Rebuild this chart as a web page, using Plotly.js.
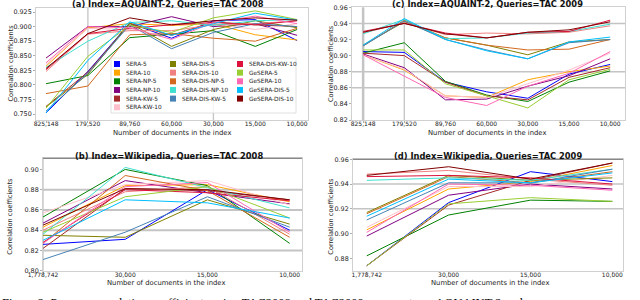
<!DOCTYPE html>
<html><head><meta charset="utf-8">
<script src="https://cdn.plot.ly/plotly-3.0.1.min.js"></script>
<style>html,body{margin:0;padding:0;background:#fff}#chart{width:640px;height:300px}</style>
</head><body><div id="chart"></div>
<script>
const seriesNames = ['SERA-5','SERA-10','SERA-NP-5','SERA-NP-10','SERA-KW-5','SERA-KW-10','SERA-DIS-5','SERA-DIS-10','SERA-DIS-NP-5','SERA-DIS-NP-10','SERA-DIS-KW-5','SERA-DIS-KW-10','GeSERA-5','GeSERA-10','GeSERA-DIS-5','GeSERA-DIS-10'];
const seriesColors = ['#0000ff','#ffa500','#008000','#800080','#a52a2a','#ffc0cb','#808000','#f08080','#d2691e','#40e0d0','#4682b4','#dc143c','#9acd32','#ff69b4','#00bfff','#800000'];

const docsAquaint = ['825,148','179,520','89,760','60,000','30,000','15,000','10,000'];
const docsWiki = ['1,778,742','30,000','15,000','10,000'];

// (a) Index=AQUAINT-2, Queries=TAC 2008
const aquaintTac2008 = [
  [0.752, 0.823, 0.906, 0.880, 0.910, 0.912, 0.876],
  [0.832, 0.898, 0.905, 0.902, 0.905, 0.886, 0.877],
  [0.802, 0.816, 0.881, 0.887, 0.893, 0.866, 0.895],
  [0.846, 0.900, 0.900, 0.917, 0.900, 0.905, 0.885],
  [0.763, 0.822, 0.905, 0.885, 0.908, 0.903, 0.900],
  [0.835, 0.897, 0.895, 0.905, 0.905, 0.895, 0.905],
  [0.762, 0.818, 0.906, 0.866, 0.895, 0.910, 0.898],
  [0.823, 0.887, 0.893, 0.893, 0.903, 0.905, 0.910],
  [0.785, 0.798, 0.886, 0.888, 0.880, 0.875, 0.897],
  [0.830, 0.875, 0.907, 0.910, 0.902, 0.910, 0.912],
  [0.755, 0.820, 0.903, 0.862, 0.890, 0.905, 0.900],
  [0.826, 0.888, 0.897, 0.903, 0.907, 0.903, 0.910],
  [0.760, 0.849, 0.902, 0.890, 0.915, 0.927, 0.912],
  [0.838, 0.900, 0.898, 0.878, 0.907, 0.918, 0.905],
  [0.752, 0.842, 0.908, 0.885, 0.905, 0.923, 0.911],
  [0.828, 0.888, 0.915, 0.903, 0.910, 0.915, 0.911]
];
// (c) Index=AQUAINT-2, Queries=TAC 2009
const aquaintTac2009 = [
  [0.905, 0.904, 0.867, 0.855, 0.847, 0.877, 0.889],
  [0.901, 0.882, 0.850, 0.848, 0.870, 0.880, 0.887],
  [0.903, 0.916, 0.868, 0.851, 0.843, 0.867, 0.881],
  [0.902, 0.885, 0.845, 0.846, 0.862, 0.875, 0.896],
  [0.903, 0.900, 0.867, 0.850, 0.845, 0.873, 0.885],
  [0.901, 0.883, 0.850, 0.848, 0.865, 0.882, 0.903],
  [0.913, 0.942, 0.922, 0.913, 0.901, 0.917, 0.920],
  [0.928, 0.941, 0.926, 0.928, 0.927, 0.929, 0.937],
  [0.912, 0.944, 0.922, 0.913, 0.907, 0.908, 0.920],
  [0.927, 0.945, 0.921, 0.922, 0.928, 0.930, 0.939],
  [0.912, 0.943, 0.920, 0.907, 0.896, 0.916, 0.920],
  [0.930, 0.940, 0.928, 0.922, 0.929, 0.930, 0.944],
  [0.907, 0.907, 0.865, 0.850, 0.835, 0.870, 0.883],
  [0.901, 0.875, 0.848, 0.838, 0.862, 0.878, 0.905],
  [0.913, 0.946, 0.920, 0.906, 0.896, 0.917, 0.923],
  [0.929, 0.940, 0.927, 0.922, 0.929, 0.932, 0.942]
];
// (b) Index=Wikipedia, Queries=TAC 2008
const wikiTac2008 = [
  [0.826, 0.831, 0.880, 0.840],
  [0.843, 0.884, 0.885, 0.868],
  [0.853, 0.900, 0.884, 0.827],
  [0.847, 0.889, 0.877, 0.866],
  [0.822, 0.881, 0.879, 0.870],
  [0.857, 0.885, 0.889, 0.865],
  [0.835, 0.833, 0.870, 0.846],
  [0.840, 0.878, 0.883, 0.836],
  [0.827, 0.894, 0.879, 0.833],
  [0.836, 0.902, 0.882, 0.862],
  [0.811, 0.838, 0.873, 0.843],
  [0.828, 0.880, 0.877, 0.869],
  [0.838, 0.873, 0.883, 0.852],
  [0.827, 0.883, 0.887, 0.838],
  [0.830, 0.870, 0.867, 0.852],
  [0.845, 0.881, 0.880, 0.870]
];
// (d) Index=Wikipedia, Queries=TAC 2009
const wikiTac2009 = [
  [0.874, 0.925, 0.950, 0.942],
  [0.903, 0.936, 0.942, 0.955],
  [0.882, 0.915, 0.927, 0.926],
  [0.898, 0.931, 0.940, 0.936],
  [0.874, 0.923, 0.943, 0.957],
  [0.905, 0.938, 0.938, 0.947],
  [0.917, 0.947, 0.943, 0.945],
  [0.948, 0.951, 0.944, 0.939],
  [0.916, 0.946, 0.941, 0.950],
  [0.943, 0.945, 0.943, 0.952],
  [0.911, 0.941, 0.941, 0.952],
  [0.946, 0.947, 0.945, 0.940],
  [0.874, 0.924, 0.929, 0.926],
  [0.901, 0.940, 0.939, 0.935],
  [0.914, 0.944, 0.941, 0.949],
  [0.947, 0.954, 0.944, 0.957]
];

const panelTitles = ['(a) Index=AQUAINT-2, Queries=TAC 2008','(c) Index=AQUAINT-2, Queries=TAC 2009','(b) Index=Wikipedia, Queries=TAC 2008','(d) Index=Wikipedia, Queries=TAC 2009'];
const xTitle = 'Number of documents in the index';
const yTitle = 'Correlation coefficients';
const caption = 'Figure 2: Pearson correlation coefficients using TAC2008 and TAC2009 query sets on AQUAINT-2 and';

const W = 640, H = 300;
const px = p => p / W;
const py = p => 1 - p / H;

// panel geometry in pixels
const panels = [
  {s:'',  cats:docsAquaint, data:aquaintTac2008, l:36,  r:308, t:8,   b:120,   xr:[-0.24,6.26], yr:[0.7397,0.9319], dt:0.025, fmt:'.3f', t0:0.75,
   title:[168,3.8], xt:[172,132.6], yt:[10,63.5]},
  {s:'2', cats:docsAquaint, data:aquaintTac2009, l:352, r:625, t:7.3, b:120,   xr:[-0.27,6.36], yr:[0.82,0.96], dt:0.02, fmt:'.2f', t0:0.82,
   title:[487.5,3.6], xt:[486.5,132.6], yt:[330.5,63.5]},
  {s:'3', cats:docsWiki,    data:wikiTac2008,    l:43,  r:302, t:158.3, b:270.7, xr:[0,3.15], yr:[0.80,0.911], dt:0.02, fmt:'.2f', t0:0.80,
   title:[168.5,155.5], xt:[166,282.6], yt:[10,216.7]},
  {s:'4', cats:docsWiki,    data:wikiTac2009,    l:353, r:623, t:159.3, b:270.7, xr:[-0.168,3.13], yr:[0.870,0.960], dt:0.02, fmt:'.2f', t0:0.88,
   title:[487.5,155.8], xt:[490,283.3], yt:[331,216.7]}
];

const traces = [];
const layout = {
  width: W, height: H, margin:{l:0,r:0,t:0,b:0},
  paper_bgcolor:'#fff', plot_bgcolor:'#fff',
  showlegend:false,
  font:{family:'DejaVu Sans', color:'#222'},
  shapes:[], annotations:[]
};

panels.forEach((p, k) => {
  p.data.forEach((vals, i) => {
    traces.push({type:'scatter', mode:'lines', x:p.cats, y:vals, name:seriesNames[i],
      xaxis:'x'+p.s, yaxis:'y'+p.s, line:{color:seriesColors[i], width:1}, showlegend:false, hoverinfo:'skip'});
  });
  layout['xaxis'+p.s] = {domain:[px(p.l), px(p.r)], anchor:'y'+p.s, type:'category', range:p.xr,
    showgrid:false, zeroline:false, showline:true, mirror:true, linecolor:'#d0d0d0', linewidth:1,
    ticks:'outside', ticklen:2, tickcolor:'#999', tickwidth:0.8, ticklabelstandoff:-4,
    tickfont:{size:6, color:'#222'}, fixedrange:true};
  layout['yaxis'+p.s] = {domain:[py(p.b), py(p.t)], anchor:'x'+p.s, range:p.yr, tickformat:p.fmt, dtick:p.dt, tick0:p.t0,
    showgrid:false, zeroline:false, showline:true, mirror:true, linecolor:'#d0d0d0', linewidth:1,
    ticks:'outside', ticklen:2, tickcolor:'#999', tickwidth:0.8, tickfont:{size:6.4, color:'#222'}, fixedrange:true};
  layout.annotations.push(
    {xref:'paper', yref:'paper', x:px(p.title[0]), y:py(p.title[1]), xanchor:'center', yanchor:'middle', showarrow:false,
     text:'<b>'+panelTitles[k]+'</b>', font:{size:8.3, family:'DejaVu Sans', color:'#111'}},
    {xref:'paper', yref:'paper', x:px(p.xt[0]), y:py(p.xt[1]), xanchor:'center', yanchor:'middle', showarrow:false,
     text:xTitle, font:{size:6.8, color:'#222'}},
    {xref:'paper', yref:'paper', x:px(p.yt[0]), y:py(p.yt[1]), xanchor:'center', yanchor:'middle', showarrow:false, textangle:-90,
     text:yTitle, font:{size:6.6, color:'#222'}}
  );
});

// stray grid lines as in the reference
const gridColor = '#c4c4c4';
const vGrid = [ ['', 1, 1.3], ['', 4, 1.3], ['2', 0, 2.5], ['2', 1, 1.3], ['3', 0, 1.3] ];
const hGrid = [ ['2', 0.94, 1.5], ['2', 0.88, 1.5], ['2', 0.86, 1.5], ['3', 0.88, 2], ['3', 0.86, 2], ['3', 0.84, 2], ['3', 0.82, 2], ['4', 0.94, 1.5], ['4', 0.92, 1.5] ];
vGrid.forEach(g => layout.shapes.push({type:'line', layer:'below', xref:'x'+g[0], yref:'y'+g[0]+' domain', x0:g[1], x1:g[1], y0:0, y1:1, line:{color:gridColor, width:g[2]}}));
hGrid.forEach(g => layout.shapes.push({type:'line', layer:'below', xref:'x'+g[0]+' domain', yref:'y'+g[0], x0:0, x1:1, y0:g[1], y1:g[1], line:{color:gridColor, width:g[2]}}));
['3','4'].forEach(s => layout.shapes.push({type:'line', layer:'above', xref:'x'+s+' domain', yref:'y'+s+' domain', x0:0, x1:1, y0:1, y1:1, line:{color:'#888', width:1.3}}));

// legend drawn inside panel (a)
const legBox = {l:111, r:296, t:58, b:113};
layout.shapes.push({type:'rect', layer:'above', xref:'paper', yref:'paper', x0:px(legBox.l), x1:px(legBox.r), y0:py(legBox.b), y1:py(legBox.t),
  fillcolor:'rgba(255,255,255,0.85)', line:{color:'#d8d8d8', width:0.8}});
const colSq = [114, 170, 237], colTx = [124, 180, 247];
seriesNames.forEach((n, i) => {
  const col = i < 6 ? 0 : (i < 11 ? 1 : 2);
  const row = i < 6 ? i : (i < 11 ? i - 6 : i - 11);
  const yc = 64 + 8.65 * row;
  layout.shapes.push({type:'rect', layer:'above', xref:'paper', yref:'paper', x0:px(colSq[col]), x1:px(colSq[col]+6), y0:py(yc+3), y1:py(yc-3),
    fillcolor:seriesColors[i], line:{width:0}});
  layout.annotations.push({xref:'paper', yref:'paper', x:px(colTx[col]), y:py(yc), xanchor:'left', yanchor:'middle', showarrow:false,
    text:n, font:{size:5.8, color:'#222'}});
});

layout.annotations.push({xref:'paper', yref:'paper', x:0, y:py(302.5), xanchor:'left', yanchor:'middle', showarrow:false,
  text:caption, font:{size:12.5, family:'Liberation Serif', color:'#000'}});

Plotly.newPlot('chart', traces, layout, {displayModeBar:false, staticPlot:true});
</script>
</body></html>
